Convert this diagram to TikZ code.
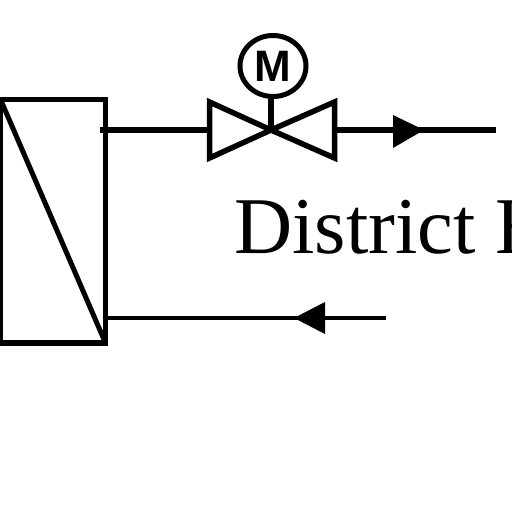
\documentclass[tikz,border=0pt]{standalone}
\usetikzlibrary{shapes.geometric}
\usepackage{fontspec}
\setmainfont{Liberation Serif}
\newfontfamily\motorfont{Liberation Sans}
\begin{document}
\begin{tikzpicture}[x=1pt,y=-1pt,
  pipe/.style={line width=#1,line cap=butt},
  sym/.style={line width=5.5pt,line join=miter},
  tip/.style={fill=black,draw=none}]
\useasboundingbox (0,0) rectangle (512,512);
\clip (0,0) rectangle (512,512);
\fill[white] (0,0) rectangle (512,512);
% heat exchanger
\coordinate (hxTL) at (0.5,99.5);
\coordinate (hxBR) at (105.5,343);
\draw[sym] (hxTL) rectangle (hxBR);
\draw[line width=5pt] (hxTL) -- (hxBR);
% valve
\coordinate (vc) at (271,130);
\coordinate (vL) at (209.5,130);
\coordinate (vR) at (334.5,130);
\draw[sym] (vc) -- (209.5,102) -- (209.5,158) -- cycle;
\draw[sym] (vc) -- (334.5,102) -- (334.5,158) -- cycle;
% motor
\node[ellipse,draw,line width=5pt,minimum width=66pt,minimum height=61pt,inner sep=0pt,font=\motorfont\bfseries\fontsize{44}{44}\selectfont] (motor) at (273,66) {M};
\draw[line width=5.5pt] (motor.south -| vc) -- (vc);
% pipes
\coordinate (supS) at (100,130);
\coordinate (supE) at (496,130);
\coordinate (retS) at (106,318);
\coordinate (retE) at (386,318);
\draw[pipe=6pt] (supS) -- (vL);
\draw[pipe=6pt] (vR) -- (supE);
\draw[pipe=4.5pt] (retS) -- (retE);
% arrowheads
\fill[tip] (393,115) -- (424,130) -- (393,148) -- cycle;
\fill[tip] (325,302) -- (294,318) -- (325,334) -- cycle;
% label
\node[anchor=base west,inner sep=0pt,font=\fontsize{80.5}{80.5}\selectfont] (label) at (234,253) {District H};
\end{tikzpicture}
\end{document}
